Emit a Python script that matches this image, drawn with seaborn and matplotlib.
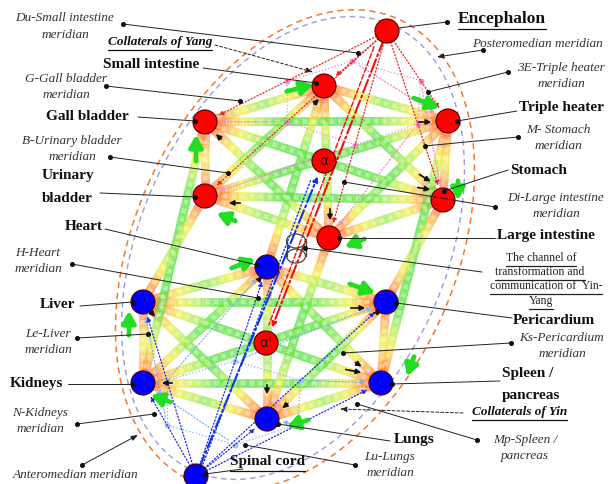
import numpy as np
import pandas as pd
import seaborn as sns
import matplotlib.pyplot as plt
from matplotlib.collections import LineCollection
from matplotlib.colors import LinearSegmentedColormap
from matplotlib.patches import Ellipse

# organs (x, y in the reference picture, y pointing down)
yang_names = ["Small intestine", "Gall bladder", "Triple heater", "Urinary bladder", "Stomach", "Large intestine"]
yang_x = [324, 205, 448, 205, 443, 329]
yang_y = [86, 122, 121, 196, 200, 238]
yin_names = ["Heart", "Liver", "Pericardium", "Kidneys", "Spleen", "Lungs"]
yin_x = [267, 143, 386, 143, 381, 267]
yin_y = [267, 302, 302, 383, 383, 419]
pole_names = ["Encephalon", "Spinal cord"]
pole_x = [387, 196]
pole_y = [31, 476]
center_names = ["α", "α'"]
center_x = [324, 266]
center_y = [161, 343]
# yang <-> yin channels
cross_links = [("Gall bladder", "Kidneys"), ("Urinary bladder", "Liver"),
               ("Triple heater", "Spleen"), ("Stomach", "Pericardium"),
               ("Small intestine", "Heart"), ("Large intestine", "Lungs")]
ring_order = ["Small intestine", "Triple heater", "Stomach", "Large intestine", "Urinary bladder", "Gall bladder"]
yin_ring = ["Heart", "Pericardium", "Spleen", "Lungs", "Kidneys", "Liver"]

nodes = pd.DataFrame({
    "name": yang_names + yin_names + pole_names + center_names,
    "x": yang_x + yin_x + pole_x + center_x,
    "y": yang_y + yin_y + pole_y + center_y,
    "kind": ["yang"] * 6 + ["yin"] * 6 + ["yang", "yin", "yang", "yang"],
})
pos = {r.name: np.array([r.x, r.y], float) for r in nodes.itertuples()}

sns.set_style("white")
plt.rcParams["font.family"] = ["Liberation Serif", "DejaVu Serif"]

fig = plt.figure(figsize=(6.13, 4.84), dpi=100)
ax = fig.add_axes([0, 0, 1, 1])
ax.set_xlim(0, 613)
ax.set_ylim(484, 0)
ax.axis("off")

band_cmap = LinearSegmentedColormap.from_list(
    "band", ["#ff3c2c", "#ff9a3c", "#f2ee3c", "#a6ec4e", "#58e23e"])


def band(p, q, lw=6.3):
    t = np.linspace(0, 1, 70)
    pts = np.outer(1 - t, p) + np.outer(t, q)
    segs = np.stack([pts[:-1], pts[1:]], axis=1)
    mid = (pts[:-1] + pts[1:]) / 2
    d = np.minimum(np.hypot(*(mid - p).T), np.hypot(*(mid - q).T))
    cols = band_cmap(np.clip(d / 75, 0, 1))
    ax.add_collection(LineCollection(segs, colors=cols, linewidths=lw, alpha=0.75,
                                     capstyle="butt", zorder=2))
    ax.plot([p[0], q[0]], [p[1], q[1]], color="white", lw=3.2, alpha=0.35,
            ls=(0, (1, 1)), zorder=2.1)


# ellipses round the whole system
ax.add_patch(Ellipse((295, 250), 506, 322, angle=-66, fill=False, ec="#f07a30",
                     ls=(0, (4, 3)), lw=1.1, zorder=1))
ax.add_patch(Ellipse((293, 248), 488, 306, angle=-66, fill=False, ec="#9a9ae0",
                     ls=(0, (4, 3)), lw=1.0, zorder=1))

# bands: every yang with every yang, every yin with every yin, plus cross links
for group in (yang_names, yin_names):
    for i in range(6):
        for j in range(i + 1, 6):
            band(pos[group[i]], pos[group[j]])
for a, b in cross_links:
    band(pos[a], pos[b])


def dotted_arrow(p, q, color, lw=0.9, ls=":", shrink=11, head=True):
    ax.annotate("", xy=q, xytext=p,
                arrowprops=dict(arrowstyle="-|>" if head else "-", color=color, lw=lw, ls=ls,
                                shrinkA=6, shrinkB=shrink, mutation_scale=7), zorder=3)


# collaterals of yang / yin (thin dotted nets)
enc, spine = pos["Encephalon"], pos["Spinal cord"]
pink = {n: enc + 0.55 * (pos[n] - enc) for n in yang_names}
lblue = {n: spine + 0.55 * (pos[n] - spine) for n in yin_names}
for k in range(6):
    a, b = ring_order[k], ring_order[(k + 1) % 6]
    ax.plot(*zip(pink[a], pink[b]), color="#f58ac8", lw=0.9, ls=":", zorder=3)
    dotted_arrow(pink[a], pos[b], "#f58ac8")
    a, b = yin_ring[k], yin_ring[(k + 1) % 6]
    ax.plot(*zip(lblue[a], lblue[b]), color="#7ab4f0", lw=0.9, ls=":", zorder=3)
    dotted_arrow(lblue[a], pos[b], "#7ab4f0")
ax.scatter(*np.array(list(pink.values())).T, s=10, color="#f58ac8", zorder=3)
ax.scatter(*np.array(list(lblue.values())).T, s=10, color="#9cc8f4", zorder=3)

for n in yang_names:
    dotted_arrow(enc, pos[n], "#ee2222")
for n in yin_names:
    dotted_arrow(spine, pos[n], "#2222ee")

# channel of transformation (dash-dot lines through the centre)
dotted_arrow(enc, pos["α'"], "#ee1111", lw=1.5, ls="-.", shrink=12)
dotted_arrow(enc + [-10, 8], pos["α'"] + [-4, 0], "#ee1111", lw=1.0, ls="--", shrink=14, head=False)
dotted_arrow(spine, pos["α"], "#1133ee", lw=1.5, ls="-.", shrink=12)
dotted_arrow(spine + [4, -4], pos["α"] + [-6, 0], "#1133ee", lw=1.0, ls=":", shrink=14, head=False)

# cylinder symbol
for cy in (241, 256):
    ax.add_patch(Ellipse((296, cy), 19, 14, fill=False, ec="#444444", lw=0.9, zorder=4))
ax.plot([286.5, 286.5], [241, 256], color="#444444", lw=0.9, zorder=4)
ax.plot([305.5, 305.5], [241, 256], color="#444444", lw=0.9, zorder=4)

# nodes
sns.scatterplot(data=nodes, x="x", y="y", hue="kind", palette={"yang": "#ff0000", "yin": "#0000ff"},
                s=300, edgecolor="#4a0000", linewidth=0.8, legend=False, ax=ax, zorder=6)
for n in center_names:
    ax.text(*pos[n], n, ha="center", va="center", fontsize=10, color="#1a1a1a",
            family="DejaVu Sans", zorder=7)

# green flow arrows
green_arrows = [((284, 92), (316, 84)), ((411, 97), (442, 109)), ((196, 164), (196, 132)),
                ((458, 178), (458, 203)), ((238, 222), (214, 212)), ((367, 238), (342, 248)),
                ((229, 269), (258, 258)), ((347, 283), (378, 294)), ((129, 338), (129, 308)),
                ((173, 403), (148, 394)), ((415, 354), (406, 379)), ((311, 419), (284, 428))]
for p, q in green_arrows:
    ax.annotate("", xy=q, xytext=p, arrowprops=dict(arrowstyle="-|>,head_width=0.4,head_length=0.7",
                                                    color="#22dd22", lw=3.4), zorder=5)

black_arrows = [((312, 106), (321, 97)), ((223, 141), (214, 132)), ((416, 122), (434, 122)),
                ((417, 173), (433, 183)), ((415, 187), (433, 190)), ((243, 203), (226, 203)),
                ((330, 206), (330, 223)), ((348, 308), (368, 308)), ((175, 383), (159, 383)),
                ((353, 361), (364, 368)), ((343, 369), (364, 373)), ((267, 382), (267, 397)),
                ((290, 402), (280, 410)), ((151, 312), (157, 319)), ((258, 281), (264, 274)),
                ((371, 314), (385, 310))]
for p, q in black_arrows:
    ax.annotate("", xy=q, xytext=p, arrowprops=dict(arrowstyle="-|>,head_width=0.15,head_length=0.3",
                                                    color="#111111", lw=1.2), zorder=5)

fig.canvas.draw()
rend = fig.canvas.get_renderer()


def underline(t, off=2):
    bb = t.get_window_extent(rend).transformed(ax.transData.inverted())
    y = max(bb.y0, bb.y1) + off
    ax.plot([bb.x0, bb.x1], [y, y], color=t.get_color(), lw=0.9)


def label(x, y, s, size=11, weight="bold", style="normal", ha="left", under=False, color="#111111"):
    t = ax.text(x, y, s, fontsize=size, fontweight=weight, fontstyle=style, ha=ha, va="center",
                color=color, zorder=8)
    if under:
        underline(t)
    return t


def leader(p, q, dot_p=True, dot_q=True, arrow=False, ls="-"):
    if arrow:
        ax.annotate("", xy=q, xytext=p, arrowprops=dict(arrowstyle="-|>,head_width=0.15,head_length=0.4",
                                                        color="#222222", lw=0.7, ls=ls, shrinkA=0, shrinkB=0),
                    zorder=7)
    else:
        ax.plot([p[0], q[0]], [p[1], q[1]], color="#222222", lw=0.7, ls=ls, zorder=7)
    if dot_p:
        ax.plot(*p, "o", color="#111111", ms=2.6, zorder=7)
    if dot_q and not arrow:
        ax.plot(*q, "o", color="#111111", ms=2.6, zorder=7)


# organ names
label(458, 19, "Encephalon", size=12.5, under=True)
leader((447, 22), (398, 28), dot_q=False)
label(103, 65, "Small intestine")
leader((203, 68), (316, 83), dot_p=False)
label(46, 116, "Gall bladder")
leader((138, 117), (195, 121), dot_p=False)
label(519, 108, "Triple heater")
leader((517, 111), (457, 121), dot_p=False)
label(510, 170, "Stomach")
leader((508, 170), (444, 191), dot_p=False)
label(42, 176, "Urinary")
label(42, 199, "bladder")
leader((100, 193), (195, 197), dot_p=False)
label(65, 227, "Heart")
leader((105, 229), (257, 265), dot_p=False)
label(497, 236, "Large intestine")
leader((495, 238), (339, 238), dot_p=False)
label(40, 305, "Liver")
leader((80, 306), (133, 302), dot_p=False)
label(513, 320, "Pericardium")
leader((512, 318), (396, 303), dot_p=False)
label(10, 384, "Kidneys")
leader((68, 384), (133, 384), dot_p=False)
label(502, 373, "Spleen /")
label(502, 395, "pancreas")
leader((500, 381), (392, 384), dot_p=False)
label(394, 440, "Lungs")
leader((390, 441), (278, 424), dot_p=False)
label(230, 462, "Spinal cord", under=True)
leader((243, 469), (205, 474), dot_p=False)

# meridian names
it = dict(size=9.5, weight="normal", style="italic", ha="center", color="#333333")
label(65, 18, "Du-Small intestine", **it)
label(65, 35, "meridian", **it)
leader((123, 24), (358, 53))
label(108, 42, "Collaterals of Yang", size=9.5, style="italic", under=True)
leader((215, 45), (313, 72), dot_p=False, arrow=True, ls=(0, (3, 2)))
label(66, 79, "G-Gall bladder", **it)
label(66, 95, "meridian", **it)
leader((106, 86), (240, 101))
label(72, 141, "B-Urinary bladder", **it)
label(72, 157, "meridian", **it)
leader((110, 157), (228, 173))
label(537, 44, "Posteromedian meridian", **it)
leader((483, 50), (437, 57), arrow=True)
label(561, 68, "3E-Triple heater", **it)
label(561, 84, "meridian", **it)
leader((508, 72), (428, 92))
label(558, 130, "M- Stomach", **it)
label(558, 146, "meridian", **it)
leader((518, 137), (425, 146))
label(556, 198, "Di-Large intestine", **it)
label(556, 214, "meridian", **it)
leader((495, 207), (344, 182))
label(38, 253, "H-Heart", **it)
label(38, 269, "meridian", **it)
leader((72, 264), (258, 298))
label(48, 334, "Le-Liver", **it)
label(48, 350, "meridian", **it)
leader((77, 338), (148, 334))
label(562, 338, "Ks-Pericardium", **it)
label(562, 354, "meridian", **it)
leader((511, 343), (343, 353))
label(40, 413, "N-Kidneys", **it)
label(40, 429, "meridian", **it)
leader((77, 424), (154, 414))
label(472, 412, "Collaterals of Yin", size=9.5, style="italic", under=True)
leader((463, 413), (340, 409), dot_p=False, arrow=True, ls=(0, (3, 2)))
label(525, 440, "Mp-Spleen /", **it)
label(525, 456, "pancreas", **it)
leader((477, 440), (357, 404))
label(390, 457, "Lu-Lungs", **it)
label(390, 473, "meridian", **it)
leader((355, 465), (245, 445))
label(76, 475, "Anteromedian meridian", **it)
leader((82, 465), (138, 435), arrow=True)

ch = dict(size=8.5, weight="normal", ha="center", under=True, color="#222222")
label(541, 258, "The channel of", **ch)
label(540, 272, "transformation and", **ch)
label(546, 286, "communication of  Yin-", **ch)
label(541, 301, "Yang", **ch)
leader((482, 272), (305, 248), dot_p=False)

fig.savefig("out.png", dpi=100, facecolor="white")
